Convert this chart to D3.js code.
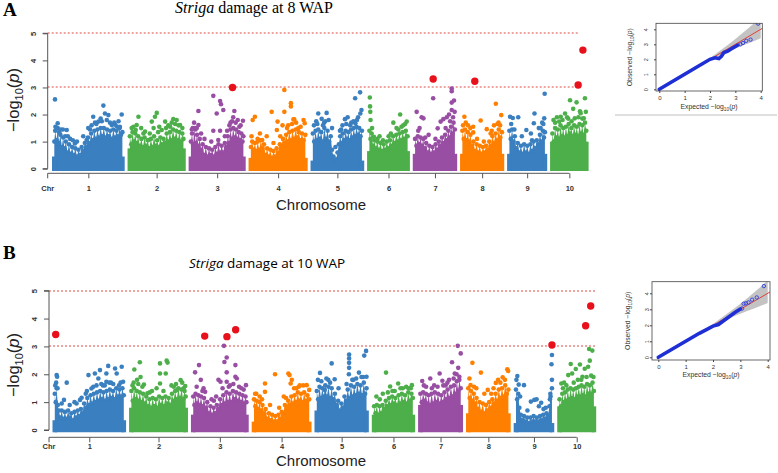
<!DOCTYPE html>
<html><head><meta charset="utf-8">
<script src="https://cdn.jsdelivr.net/npm/d3@7"></script>
<style>body{margin:0;background:#fff}svg{display:block}</style>
</head><body>
<script>
// ---------------- DATA ----------------
const chromosomes = ["1","2","3","4","5","6","7","8","9","10"];
const chrLengthsMb = [301,237,232,241,217,169,176,175,157,150];
const chrColors = ["#3a7fbf","#4daf4a","#984ea3","#ff7f00","#3a7fbf","#4daf4a","#984ea3","#ff7f00","#3a7fbf","#4daf4a"];
const chrGapMb = 33;
const yTicks = [0,1,2,3,4,5];
const thresholds = [3,5];
const titleA = "damage at 8 WAP";
const titleB = "damage at 10 WAP";

// upper edge of the dense SNP band (Mb, -log10 p) per chromosome
const bodyA = [
 [[0,1.0],[4,1.4],[10,1.05],[15,1.5],[21,0.95],[27,1.25],[33,0.8],[39,1.15],[45,0.75],[51,1.0],[58,0.6],[65,0.9],[72,0.55],[79,0.8],[86,0.5],[93,0.75],[100,0.45],[107,0.7],[114,0.5],[121,0.8],[128,0.65],[135,0.95],[142,0.8],[149,1.15],[156,0.95],[163,1.3],[170,1.05],[177,1.4],[184,1.1],[191,1.45],[198,1.15],[205,1.5],[212,1.2],[219,1.5],[226,1.15],[233,1.45],[240,1.2],[247,1.4],[254,1.1],[261,1.45],[268,1.15],[275,1.4],[282,1.2],[289,1.5],[295,1.25],[301,1.35]],
 [[0,1.2],[6,0.9],[12,1.35],[18,1.0],[24,1.3],[30,0.95],[37,1.2],[44,0.85],[51,1.1],[58,0.8],[65,1.15],[72,0.85],[79,1.05],[86,0.75],[93,1.1],[100,0.8],[107,1.2],[114,0.85],[121,1.05],[128,0.8],[135,1.15],[142,0.9],[149,1.1],[156,0.95],[163,1.3],[170,1.0],[177,1.35],[184,1.05],[191,1.45],[198,1.1],[205,1.4],[212,1.05],[219,1.35],[226,1.0],[232,1.3],[237,1.1]],
 [[0,1.0],[5,1.3],[10,0.9],[15,1.5],[21,0.95],[27,1.25],[33,0.85],[39,1.1],[45,0.7],[52,0.9],[59,0.5],[66,0.8],[73,0.45],[80,0.75],[87,0.5],[94,0.7],[101,0.45],[108,0.8],[115,0.55],[122,0.9],[129,0.6],[136,0.85],[143,0.6],[150,0.95],[157,0.8],[163,1.2],[169,0.95],[175,1.45],[181,1.1],[187,1.5],[193,1.15],[199,1.45],[205,1.1],[211,1.35],[217,1.05],[223,1.3],[228,1.0],[232,1.2]],
 [[0,0.8],[6,1.0],[12,0.7],[18,0.95],[24,0.65],[30,1.0],[37,0.7],[44,1.05],[51,0.75],[58,0.9],[65,0.5],[72,0.75],[79,0.45],[86,0.7],[93,0.4],[100,0.65],[107,0.45],[114,0.75],[121,0.6],[128,0.9],[135,0.8],[142,1.1],[149,0.95],[156,1.25],[163,1.0],[170,1.35],[177,1.05],[184,1.4],[191,1.1],[198,1.45],[205,1.15],[212,1.35],[219,1.05],[226,1.3],[233,1.05],[241,1.25]],
 [[0,1.3],[6,1.0],[12,1.4],[18,1.05],[24,1.45],[30,1.1],[37,1.35],[44,1.0],[51,1.5],[58,1.1],[65,1.4],[72,1.0],[79,1.2],[85,0.7],[91,0.45],[97,0.3],[103,0.35],[109,0.6],[115,0.9],[121,1.2],[127,0.95],[133,1.3],[139,1.05],[145,1.4],[151,1.1],[157,1.35],[163,1.05],[169,1.45],[175,1.15],[181,1.5],[187,1.2],[193,1.55],[199,1.25],[205,1.5],[211,1.2],[217,1.4]],
 [[0,1.4],[5,1.1],[10,1.3],[16,0.85],[22,1.05],[28,0.75],[35,1.0],[42,0.7],[49,0.95],[56,0.65],[63,0.9],[70,0.7],[77,1.0],[84,0.75],[91,1.05],[98,0.85],[105,1.2],[112,0.95],[119,1.25],[126,1.0],[133,1.3],[140,1.05],[147,1.35],[154,1.1],[161,1.4],[169,1.2]],
 [[0,1.1],[6,0.85],[12,1.2],[18,0.9],[24,1.15],[30,0.85],[36,1.1],[42,0.75],[49,0.95],[56,0.6],[63,0.85],[70,0.55],[77,0.8],[84,0.6],[91,0.9],[98,0.7],[105,1.0],[112,0.85],[119,1.15],[126,0.95],[133,1.25],[140,1.05],[147,1.4],[153,1.15],[159,1.55],[165,1.3],[170,1.7],[176,1.45]],
 [[0,1.4],[6,1.1],[12,1.45],[18,1.05],[24,1.35],[30,1.0],[36,1.25],[42,0.85],[49,1.0],[56,0.65],[63,0.9],[70,0.6],[77,0.85],[84,0.55],[91,0.8],[98,0.6],[105,0.85],[112,0.7],[119,1.0],[126,0.85],[133,1.2],[140,0.95],[147,1.3],[154,1.05],[161,1.45],[168,1.15],[175,1.35]],
 [[0,1.4],[6,1.1],[12,1.45],[18,1.0],[24,1.2],[30,0.75],[37,0.95],[44,0.6],[51,0.85],[58,0.55],[65,0.9],[72,0.6],[79,0.85],[86,0.55],[93,0.9],[100,0.65],[107,1.0],[114,0.75],[121,1.05],[128,0.9],[135,1.25],[142,1.0],[148,1.4],[153,1.15],[157,1.35]],
 [[0,1.3],[6,1.0],[12,1.5],[18,1.15],[24,1.45],[30,1.1],[36,1.6],[42,1.2],[48,1.5],[54,1.15],[60,1.55],[66,1.2],[72,1.65],[78,1.3],[84,1.5],[90,1.2],[96,1.6],[102,1.25],[108,1.55],[114,1.2],[120,1.65],[126,1.3],[132,1.6],[138,1.25],[144,1.7],[150,1.4]]
];
const bodyB = [
 [[0,1.3],[4,1.0],[8,1.5],[13,0.9],[18,0.7],[24,0.45],[30,0.7],[37,0.4],[44,0.65],[51,0.4],[58,0.7],[65,0.45],[72,0.6],[79,0.35],[86,0.65],[93,0.45],[100,0.7],[107,0.5],[114,0.75],[121,0.6],[128,0.95],[135,0.8],[142,1.15],[149,0.9],[156,1.25],[163,0.95],[170,1.3],[177,1.0],[184,1.35],[191,1.05],[198,1.4],[205,1.1],[212,1.35],[219,1.05],[226,1.4],[233,1.1],[240,1.45],[247,1.15],[254,1.4],[261,1.1],[268,1.5],[275,1.2],[282,1.45],[289,1.2],[295,1.5],[301,1.25]],
 [[0,1.4],[6,1.05],[12,1.5],[18,1.1],[24,1.4],[30,1.05],[37,1.35],[44,1.0],[51,1.3],[58,0.95],[65,1.2],[72,0.85],[79,1.1],[86,0.8],[93,1.15],[100,0.85],[107,1.1],[114,0.8],[121,1.2],[128,0.9],[135,1.15],[142,0.85],[149,1.2],[156,0.95],[163,1.15],[170,0.9],[177,1.3],[184,1.05],[191,1.4],[198,1.1],[205,1.5],[212,1.15],[219,1.45],[226,1.1],[232,1.4],[237,1.2]],
 [[0,1.2],[5,0.9],[10,1.3],[16,0.95],[22,1.25],[28,0.9],[34,1.2],[40,0.85],[47,1.15],[54,0.8],[61,1.0],[68,0.6],[75,0.85],[82,0.55],[89,0.8],[96,0.6],[103,0.9],[110,0.75],[117,1.1],[124,0.9],[131,1.25],[138,0.95],[145,1.35],[152,1.0],[159,1.3],[166,1.0],[173,1.4],[180,1.1],[187,1.35],[194,1.05],[201,1.3],[208,1.0],[215,1.25],[222,0.95],[228,1.2],[232,1.0]],
 [[0,1.1],[6,0.85],[12,1.05],[18,0.75],[24,1.0],[30,0.7],[37,0.9],[44,0.6],[51,0.75],[58,0.4],[65,0.6],[72,0.35],[79,0.55],[86,0.3],[93,0.5],[100,0.3],[107,0.55],[114,0.4],[121,0.65],[128,0.6],[135,0.9],[142,0.8],[149,1.05],[156,0.9],[163,1.2],[170,0.95],[177,1.25],[184,1.0],[191,1.35],[198,1.05],[205,1.3],[212,1.0],[219,1.35],[226,1.05],[233,1.25],[241,1.1]],
 [[0,1.4],[6,1.1],[12,1.55],[18,1.15],[24,1.5],[30,1.2],[37,1.6],[44,1.2],[51,1.55],[58,1.15],[65,1.5],[72,1.1],[79,1.3],[86,0.9],[93,1.05],[100,0.7],[107,0.95],[114,0.8],[121,1.2],[128,1.05],[135,1.45],[142,1.15],[149,1.6],[156,1.2],[163,1.55],[170,1.25],[177,1.65],[184,1.3],[191,1.6],[198,1.25],[205,1.7],[211,1.3],[217,1.5]],
 [[0,0.85],[6,0.6],[12,0.9],[18,0.55],[24,0.85],[30,0.6],[37,0.9],[44,0.75],[51,1.05],[58,0.85],[65,1.15],[72,0.9],[79,1.2],[86,0.95],[93,1.15],[100,0.9],[107,1.25],[114,0.95],[121,1.3],[128,1.0],[135,1.25],[142,0.95],[149,1.35],[156,1.05],[163,1.3],[169,1.15]],
 [[0,1.3],[6,1.0],[12,1.35],[18,1.05],[24,1.3],[30,0.95],[36,1.25],[42,0.9],[49,1.3],[56,0.95],[63,1.35],[70,1.0],[77,1.3],[84,0.95],[91,1.25],[98,1.0],[105,1.35],[112,1.1],[119,1.45],[126,1.15],[133,1.55],[140,1.2],[147,1.6],[153,1.3],[159,1.75],[165,1.4],[170,1.8],[176,1.5]],
 [[0,1.5],[6,1.15],[12,1.4],[18,1.05],[24,1.3],[30,0.95],[36,1.15],[42,0.75],[49,1.0],[56,0.65],[63,0.95],[70,0.6],[77,0.9],[84,0.7],[91,1.0],[98,0.8],[105,1.1],[112,0.95],[119,1.3],[126,1.05],[133,1.45],[140,1.15],[147,1.5],[154,1.2],[161,1.6],[168,1.3],[175,1.45]],
 [[0,1.45],[5,1.1],[10,1.3],[15,0.8],[21,0.55],[28,0.35],[35,0.5],[42,0.3],[49,0.45],[56,0.25],[63,0.45],[70,0.3],[77,0.5],[84,0.3],[91,0.45],[98,0.3],[105,0.5],[112,0.35],[119,0.55],[126,0.4],[133,0.6],[140,0.5],[146,0.85],[151,1.2],[157,1.5]],
 [[0,1.1],[6,0.85],[12,1.3],[18,1.0],[24,1.35],[30,1.05],[36,1.45],[42,1.1],[48,1.5],[54,1.15],[60,1.45],[66,1.1],[72,1.5],[78,1.2],[84,1.55],[90,1.2],[96,1.6],[102,1.25],[108,1.55],[114,1.2],[120,1.65],[126,1.3],[132,1.6],[138,1.3],[144,1.7],[150,1.4]]
];

// scattered SNPs above the dense band: [chromosome, Mb, -log10 p]
const fringeA = [
 [1,3,2.56],[1,15,1.68],[1,10,1.5],[1,22,1.35],[1,38,1.45],[1,55,1.43],[1,48,1.2],[1,70,1.1],[1,91,0.93],[1,100,1.0],[1,128,1.2],[1,143,1.06],[1,158,1.45],[1,172,1.92],[1,180,1.7],[1,195,1.74],[1,205,1.85],[1,217,2.33],[1,224,2.04],[1,232,1.8],[1,239,1.98],[1,254,1.61],[1,265,1.7],[1,278,1.55],[1,290,1.55],[1,298,2.0],
 [1,5,1.55],[1,28,1.45],[1,60,1.2],[1,82,1.05],[1,150,1.5],[1,165,1.6],[1,186,1.65],[1,210,1.75],[1,246,1.7],[1,270,1.62],[1,284,1.75],
 [2,26,1.43],[2,30,1.61],[2,38,1.92],[2,50,1.5],[2,67,1.37],[2,82,1.06],[2,97,1.74],[2,105,1.5],[2,111,1.92],[2,119,2.06],[2,130,1.55],[2,141,1.43],[2,156,1.74],[2,170,1.6],[2,185,1.7],[2,192,1.83],[2,207,1.8],[2,222,1.61],[2,232,1.5],
 [2,8,1.5],[2,16,1.55],[2,60,1.3],[2,88,1.3],[2,125,1.35],[2,160,1.5],[2,178,1.55],[2,200,1.65],[2,215,1.6],
 [3,8,1.5],[3,20,1.45],[3,33,2.13],[3,33,1.61],[3,45,1.3],[3,60,1.1],[3,99,2.69],[3,99,1.4],[3,114,2.04],[3,121,1.06],[3,129,2.5],[3,129,1.4],[3,133,2.38],[3,143,2.17],[3,160,1.4],[3,175,1.7],[3,187,1.9],[3,192,2.13],[3,207,1.8],[3,220,1.6],[3,230,1.77],
 [3,4,1.45],[3,14,1.7],[3,26,1.5],[3,90,1.0],[3,150,1.2],[3,170,1.6],[3,182,1.75],[3,198,1.7],[3,214,1.55],
 [4,8,1.8],[4,18,1.92],[4,30,1.1],[4,50,1.06],[4,70,1.2],[4,92,2.1],[4,115,1.43],[4,118,1.74],[4,140,1.6],[4,148,2.91],[4,148,2.1],[4,160,1.5],[4,177,2.42],[4,177,2.3],[4,188,1.82],[4,192,1.82],[4,210,1.5],[4,233,1.8],[4,238,1.68],
 [4,3,1.2],[4,40,1.3],[4,100,0.95],[4,130,1.2],[4,165,1.6],[4,182,1.65],[4,200,1.7],[4,220,1.55],
 [5,5,1.6],[5,15,1.75],[5,24,2.04],[5,39,1.84],[5,50,1.7],[5,61,2.06],[5,70,1.8],[5,85,1.5],[5,100,0.8],[5,120,1.4],[5,131,1.6],[5,142,1.83],[5,154,1.9],[5,170,1.7],[5,187,2.6],[5,188,1.68],[5,200,1.9],[5,209,2.82],[5,210,2.04],[5,215,2.17],
 [5,20,1.65],[5,45,1.6],[5,55,1.75],[5,125,1.45],[5,148,1.65],[5,165,1.6],[5,180,1.75],[5,195,1.8],
 [6,2,2.63],[6,3,2.3],[6,4,2.1],[6,5,1.8],[6,20,1.18],[6,36,1.1],[6,60,1.05],[6,85,1.2],[6,106,1.7],[6,120,1.5],[6,136,2.0],[6,150,1.6],[6,165,1.74],
 [6,12,1.5],[6,45,1.2],[6,95,1.3],[6,128,1.45],[6,142,1.55],[6,158,1.65],
 [7,7,2.1],[7,20,1.5],[7,29,1.9],[7,37,1.86],[7,60,1.25],[7,80,2.6],[7,100,1.49],[7,113,1.74],[7,125,1.83],[7,140,1.9],[7,150,2.0],[7,162,2.96],[7,162,2.86],[7,162,2.44],[7,162,2.17],[7,172,2.52],[7,175,2.1],
 [7,14,1.4],[7,45,1.15],[7,90,1.1],[7,135,1.5],[7,155,1.75],[7,168,1.9],
 [8,9,1.92],[8,25,1.6],[8,48,1.55],[8,48,1.34],[8,65,1.1],[8,81,1.78],[8,95,1.0],[8,108,1.46],[8,125,1.3],[8,140,1.6],[8,148,2.4],[8,160,1.7],[8,172,1.98],
 [8,3,1.6],[8,15,1.7],[8,35,1.5],[8,130,1.4],[8,155,1.65],[8,167,1.6],
 [9,3,1.92],[9,15,1.87],[9,39,1.9],[9,55,1.2],[9,75,1.43],[9,95,1.3],[9,108,1.68],[9,111,2.04],[9,130,1.5],[9,145,1.7],[9,154,1.86],[9,156,2.77],
 [9,8,1.65],[9,22,1.45],[9,100,1.05],[9,138,1.5],[9,150,1.65],
 [10,5,1.8],[10,20,1.9],[10,30,1.74],[10,37,1.92],[10,56,2.04],[10,65,1.9],[10,78,2.53],[10,92,2.21],[10,99,1.86],[10,107,2.45],[10,122,2.12],[10,125,2.05],[10,139,1.86],[10,144,2.6],[10,148,2.1],
 [10,12,1.7],[10,45,1.8],[10,70,1.85],[10,85,1.75],[10,115,1.9],[10,132,1.85]
];
const fringeB = [
 [1,8,1.97],[1,10,1.91],[1,6,1.7],[1,12,1.5],[1,40,1.08],[1,52,1.7],[1,65,0.9],[1,86,1.0],[1,110,1.08],[1,117,1.16],[1,135,1.3],[1,147,1.97],[1,160,1.49],[1,175,2.03],[1,190,1.85],[1,197,2.15],[1,210,1.6],[1,225,2.03],[1,225,1.73],[1,233,2.3],[1,245,1.7],[1,263,2.21],[1,270,2.03],[1,280,1.6],[1,292,2.27],[1,298,1.73],
 [1,2,1.6],[1,30,0.95],[1,95,0.95],[1,140,1.4],[1,168,1.55],[1,182,1.6],[1,203,1.65],[1,218,1.6],[1,238,1.7],[1,255,1.65],[1,287,1.7],
 [2,5,1.6],[2,13,2.17],[2,25,1.8],[2,37,2.43],[2,40,1.9],[2,55,1.63],[2,70,1.32],[2,90,1.4],[2,110,1.5],[2,125,2.39],[2,125,2.03],[2,125,1.67],[2,150,2.03],[2,154,2.49],[2,158,2.42],[2,175,1.6],[2,200,1.44],[2,215,1.79],[2,228,1.5],[2,235,1.58],
 [2,10,1.7],[2,30,1.65],[2,48,1.55],[2,80,1.35],[2,140,1.4],[2,185,1.55],[2,195,1.65],[2,222,1.7],
 [3,8,2.07],[3,25,2.33],[3,33,1.8],[3,45,1.5],[3,52,1.37],[3,80,1.1],[3,100,1.2],[3,110,1.8],[3,119,1.73],[3,134,3.02],[3,136,2.44],[3,146,2.6],[3,146,2.07],[3,146,1.73],[3,160,1.6],[3,184,2.33],[3,184,1.91],[3,190,1.85],[3,210,1.5],[3,230,1.61],
 [3,15,1.55],[3,40,1.4],[3,90,1.05],[3,128,1.5],[3,155,1.55],[3,175,1.65],[3,200,1.55],[3,220,1.45],
 [4,10,1.3],[4,25,1.2],[4,48,1.67],[4,48,1.37],[4,70,0.9],[4,92,2.0],[4,110,0.8],[4,130,1.2],[4,150,2.03],[4,155,1.97],[4,160,1.67],[4,165,1.8],[4,185,1.5],[4,200,1.6],[4,230,1.61],[4,241,1.44],
 [4,5,1.3],[4,35,1.1],[4,140,1.15],[4,175,1.5],[4,195,1.55],[4,215,1.6],
 [5,5,1.8],[5,14,2.05],[5,35,1.44],[5,50,1.8],[5,65,2.39],[5,78,1.82],[5,95,1.5],[5,141,2.71],[5,141,2.57],[5,141,2.41],[5,141,2.23],[5,140,2.0],[5,160,1.8],[5,184,2.06],[5,195,1.9],[5,207,2.67],[5,215,2.84],[5,217,1.91],
 [5,20,1.75],[5,42,1.85],[5,58,1.7],[5,130,1.65],[5,155,1.8],[5,172,1.85],[5,202,1.9],
 [6,10,1.2],[6,25,1.1],[6,38,1.3],[6,52,2.06],[6,70,1.56],[6,90,1.4],[6,105,1.67],[6,125,1.5],[6,150,1.5],[6,165,1.61],
 [6,60,1.35],[6,80,1.4],[6,115,1.5],[6,140,1.55],[6,160,1.5],
 [7,8,1.76],[7,25,1.55],[7,43,1.85],[7,60,1.6],[7,84,2.03],[7,96,1.77],[7,110,1.6],[7,125,1.8],[7,138,2.43],[7,150,2.03],[7,163,3.02],[7,165,2.23],[7,170,1.91],[7,176,2.75],
 [7,15,1.6],[7,50,1.5],[7,75,1.55],[7,100,1.6],[7,118,1.7],[7,145,1.85],[7,158,2.0],
 [8,5,1.85],[8,10,1.61],[8,18,2.41],[8,35,1.5],[8,55,2.06],[8,70,1.3],[8,85,1.44],[8,110,1.5],[8,120,1.69],[8,130,1.8],[8,150,1.89],[8,170,2.18],[8,174,2.12],
 [8,25,1.55],[8,100,1.3],[8,140,1.7],[8,160,1.8],
 [9,2,1.8],[9,6,1.94],[9,12,1.63],[9,35,1.61],[9,65,1.02],[9,80,1.08],[9,90,1.1],[9,100,0.85],[9,110,0.98],[9,120,0.75],[9,150,1.3],[9,155,2.36],[9,157,2.69],[9,157,1.8],
 [9,18,1.2],[9,50,0.7],[9,130,0.8],[9,148,1.1],
 [10,8,1.67],[10,20,1.7],[10,38,1.97],[10,49,2.37],[10,55,2.03],[10,71,2.19],[10,80,1.8],[10,89,2.35],[10,100,1.91],[10,110,2.2],[10,125,2.27],[10,129,2.91],[10,132,2.49],[10,143,2.85],[10,148,1.9],
 [10,15,1.5],[10,30,1.6],[10,62,1.7],[10,95,1.8],[10,118,1.9],[10,138,1.95]
];
// significant SNPs (red)
const hitsA = [[3,184,3.0],[7,80,3.31],[8,55,3.23],[10,114,3.09],[10,135,4.38]];
const hitsB = [[1,4,3.43],[3,50,3.37],[3,147,3.35],[3,185,3.6],[9,157,3.05],[10,114,3.74],[10,136,4.45]];

// QQ plots: [expected, observed]
const qqLineA = [[0,0],[0.5,0.5],[1,1],[1.5,1.5],[2,2.0],[2.2,2.1],[2.35,2.05],[2.45,2.2],[2.55,2.45],[2.7,2.55],[2.85,2.7],[3.0,2.85],[3.1,2.95]];
const qqTopA = [[3.2,3.0],[3.3,3.09],[3.43,3.23],[3.6,3.31],[3.9,4.38]];
const qqBandExpA = [0,1,2,2.5,3,3.5,4];
const qqBandLoA  = [0,0.98,1.93,2.35,2.72,3.05,3.4];
const qqBandHiA  = [0,1.02,2.08,2.7,3.35,4.05,4.8];
const qqLineB = [[0,0],[0.5,0.5],[1,1],[1.5,1.5],[2,1.95],[2.2,2.05],[2.4,2.3],[2.6,2.55],[2.8,2.8],[3.0,3.02]];
const qqTopB = [[3.06,3.05],[3.12,3.35],[3.2,3.37],[3.3,3.43],[3.43,3.6],[3.6,3.74],[3.86,4.45]];
const qqBandExpB = [0,1,2,2.5,3,3.5,4];
const qqBandLoB  = [0,0.98,1.93,2.35,2.72,3.05,3.4];
const qqBandHiB  = [0,1.02,2.08,2.7,3.35,4.05,4.8];
const qqTicks = [0,1,2,3,4];

// ---------------- DRAWING ----------------
const W = 778, H = 473;
const DOT = 2.3;
const svg = d3.select("body").append("svg").attr("width", W).attr("height", H)
  .style("font-family", "Liberation Sans, Arial, sans-serif");
svg.append("rect").attr("width", W).attr("height", H).attr("fill", "#fff");

const offsets = [];
{ let c = 0; chrLengthsMb.forEach((L) => { offsets.push(c); c += L + chrGapMb; }); }
const totalMb = offsets[9] + chrLengthsMb[9];
const cum = (chr, mb) => offsets[chr - 1] + mb;

function manhattan(L, body, fringe, hits) {
  const x = d3.scaleLinear().domain([0, totalMb]).range([L.x0, L.x1]);
  const y = d3.scaleLinear().domain([0, 5]).range([L.y0, L.y5]);
  const g = svg.append("g");
  g.selectAll(".thr").data(thresholds).join("line")
    .attr("x1", L.axX).attr("x2", L.dashEnd)
    .attr("y1", d => Math.round(y(d))).attr("y2", d => Math.round(y(d)))
    .attr("stroke", "#dd4b45").attr("stroke-width", 1).attr("stroke-dasharray", "2,2");
  const area = d3.area().x(d => d.px).y0(y(0) + DOT).y1(d => y(d.v));
  body.forEach((pts, i) => {
    const data = pts.map(p => ({px: x(cum(i + 1, p[0])), v: p[1]}));
    const gb = g.append("g").attr("fill", chrColors[i]);
    const vmin = d3.min(pts, p => p[1]);
    gb.append("path").attr("d", area(data));
    [data[0].px, data[data.length - 1].px].forEach(px =>
      gb.append("rect").attr("x", px - DOT).attr("width", DOT * 2)
        .attr("y", y(vmin)).attr("height", y(0) + DOT - y(vmin)));
    gb.selectAll("circle").data(data).join("circle")
      .attr("cx", d => d.px).attr("cy", d => y(d.v)).attr("r", DOT);
  });
  g.selectAll(".f").data(fringe).join("circle")
    .attr("cx", d => x(cum(d[0], d[1]))).attr("cy", d => y(d[2]))
    .attr("r", DOT).attr("fill", d => chrColors[d[0] - 1]);
  g.selectAll(".h").data(hits).join("circle")
    .attr("cx", d => x(cum(d[0], d[1]))).attr("cy", d => y(d[2]))
    .attr("r", 3.7).attr("fill", "#e8101a");
  // y axis
  const ya = d3.axisLeft(y).tickValues(yTicks).tickSize(5).tickFormat(d3.format("d"));
  const yg = g.append("g").attr("transform", `translate(${L.axX},0)`).call(ya);
  yg.select(".domain").attr("d", `M-5,${y(0)}H0V${y(5)}H-5`).attr("stroke", "#555");
  yg.selectAll(".tick line").attr("stroke", "#555");
  yg.selectAll(".tick text").attr("x", 0).attr("dy", 0)
    .attr("transform", `translate(-12,0) rotate(-90)`)
    .attr("text-anchor", "middle").attr("font-size", 7.5).attr("fill", "#333")
    .attr("font-weight", "bold");
  // x axis
  const centers = chromosomes.map((c, i) => cum(i + 1, chrLengthsMb[i] / 2));
  const xa = d3.axisBottom(x).tickValues(centers).tickSize(5).tickFormat((d, i) => chromosomes[i]);
  const xg = g.append("g").attr("transform", `translate(0,${L.axY})`).call(xa);
  xg.select(".domain").remove();
  xg.append("line").attr("x1", L.axX).attr("x2", x(centers[9])).attr("stroke", "#555");
  xg.append("line").attr("x1", L.axX).attr("x2", L.axX).attr("y2", 5).attr("stroke", "#555");
  xg.append("text").attr("x", L.axX).attr("y", L.tickLabY).attr("dy", "0.71em").attr("text-anchor", "middle")
    .attr("fill", "#333").attr("font-size", 7.5).attr("font-weight", "bold").text("Chr");
  xg.selectAll(".tick line").attr("stroke", "#555");
  xg.selectAll(".tick text").attr("y", L.tickLabY).attr("font-size", 7.5).attr("font-weight", "bold").attr("fill", "#333");
  // axis labels
  g.append("text").attr("x", 321).attr("y", L.chromY).attr("text-anchor", "middle")
    .attr("font-size", 15).attr("fill", "#222").text("Chromosome");
  const yl = g.append("text").attr("transform", `translate(${L.ylabX},${L.ylabY}) rotate(-90)`)
    .attr("text-anchor", "middle").attr("font-size", 16.5).attr("fill", "#222");
  yl.append("tspan").text("\u2212log");
  yl.append("tspan").attr("font-size", 11).attr("dy", 4).text("10");
  yl.append("tspan").attr("dy", -4).text("(");
  yl.append("tspan").attr("font-style", "italic").text("p");
  yl.append("tspan").text(")");
}

manhattan({x0: 54.3, x1: 586.3, y0: 168.7, y5: 33.3, axX: 47.7, axY: 173.3, dashEnd: 578,
           tickLabY: 12, chromY: 210, ylabX: 19, ylabY: 100}, bodyA, fringeA, hitsA);
manhattan({x0: 54.8, x1: 593.9, y0: 430, y5: 290.7, axX: 49, axY: 437.3, dashEnd: 595,
           tickLabY: 6, chromY: 466, ylabX: 19, ylabY: 365}, bodyB, fringeB, hitsB);

// titles
svg.append("text").attr("x", 3).attr("y", 16).attr("font-family", "Liberation Serif, Times New Roman, serif")
  .attr("font-weight", "bold").attr("font-size", 19).text("A");
svg.append("text").attr("x", 3).attr("y", 259).attr("font-family", "Liberation Serif, Times New Roman, serif")
  .attr("font-weight", "bold").attr("font-size", 19).text("B");
const tA = svg.append("text").attr("x", 254).attr("y", 13).attr("text-anchor", "middle")
  .attr("font-family", "Liberation Serif, Times New Roman, serif").attr("font-size", 16);
tA.append("tspan").attr("font-style", "italic").text("Striga");
tA.append("tspan").text(" " + titleA);
const tB = svg.append("text").attr("x", 267).attr("y", 268).attr("text-anchor", "middle")
  .attr("font-family", "Open Sans, Liberation Sans, sans-serif").attr("font-size", 13.5);
tB.append("tspan").attr("font-style", "italic").text("Striga");
tB.append("tspan").text(" " + titleB);

// QQ plots
function qq(L, line, top, bx, lo, hi) {
  const x = d3.scaleLinear().domain([0, 4]).range([L.x0, L.x4]);
  const y = d3.scaleLinear().domain([0, 4]).range([L.y0, L.y4]);
  const g = svg.append("g");
  const clipId = "clip" + Math.round(L.bx0);
  g.append("clipPath").attr("id", clipId).append("rect")
    .attr("x", L.bx0).attr("y", L.by0).attr("width", L.bx1 - L.bx0).attr("height", L.by1 - L.by0);
  const inner = g.append("g").attr("clip-path", `url(#${clipId})`);
  const band = bx.map((e, i) => ({e, lo: lo[i], hi: hi[i]}));
  inner.append("path").attr("d", d3.area().x(d => x(d.e)).y0(d => y(d.lo)).y1(d => y(d.hi)).curve(d3.curveMonotoneX)(band))
    .attr("fill", "#bdbdbd").attr("opacity", 0.9);
  inner.append("line").attr("x1", x(0)).attr("y1", y(0)).attr("x2", x(4.2)).attr("y2", y(4.2))
    .attr("stroke", "#e0403a").attr("stroke-width", 1);
  inner.append("path").attr("d", d3.line().x(d => x(d[0])).y(d => y(d[1]))(line))
    .attr("fill", "none").attr("stroke", "#1f2fd6").attr("stroke-width", 3.6).attr("stroke-linecap", "round");
  inner.selectAll(".t").data(top).join("circle")
    .attr("cx", d => x(d[0])).attr("cy", d => y(d[1])).attr("r", 1.7)
    .attr("fill", "none").attr("stroke", "#2b3be0").attr("stroke-width", 0.9);
  g.append("rect").attr("x", L.bx0).attr("y", L.by0).attr("width", L.bx1 - L.bx0).attr("height", L.by1 - L.by0)
    .attr("fill", "none").attr("stroke", "#444").attr("stroke-width", 0.8);
  const xa = d3.axisBottom(x).tickValues(qqTicks).tickSize(2).tickFormat(d3.format("d"));
  const xg = g.append("g").attr("transform", `translate(0,${L.by1})`).call(xa);
  xg.select(".domain").remove();
  xg.selectAll("text").attr("y", 5).attr("font-size", 6).attr("fill", "#333");
  xg.selectAll(".tick line").attr("stroke", "#444");
  const ya = d3.axisLeft(y).tickValues(qqTicks).tickSize(2).tickFormat(d3.format("d"));
  const yg = g.append("g").attr("transform", `translate(${L.bx0},0)`).call(ya);
  yg.select(".domain").remove();
  yg.selectAll(".tick line").attr("stroke", "#444");
  yg.selectAll("text").attr("x", 0).attr("dy", 0).attr("transform", `translate(${L.ytickX - L.bx0},0) rotate(-90)`)
    .attr("text-anchor", "middle").attr("font-size", 5.5).attr("fill", "#333");
  const xl = g.append("text").attr("x", L.xlabX).attr("y", L.xlabY).attr("text-anchor", "middle")
    .attr("font-size", 6.8).attr("fill", "#333");
  xl.append("tspan").text("Expected  \u2212log");
  xl.append("tspan").attr("font-size", 4.8).attr("dy", 1.5).text("10");
  xl.append("tspan").attr("dy", -1.5).text("(");
  xl.append("tspan").attr("font-style", "italic").text("p");
  xl.append("tspan").text(")");
  const yl = g.append("text").attr("transform", `translate(${L.ylabX},${(L.by0 + L.by1) / 2}) rotate(-90)`)
    .attr("text-anchor", "middle").attr("font-size", 6.8).attr("fill", "#333");
  yl.append("tspan").text("Observed  \u2212log");
  yl.append("tspan").attr("font-size", 4.8).attr("dy", 1.5).text("10");
  yl.append("tspan").attr("dy", -1.5).text("(");
  yl.append("tspan").attr("font-style", "italic").text("p");
  yl.append("tspan").text(")");
}
qq({x0: 659.3, x4: 760.7, y0: 89.3, y4: 29.3, bx0: 656, bx1: 762.3, by0: 23.3, by1: 91,
    ytickX: 647.5, ylabX: 632, xlabX: 709, xlabY: 109}, qqLineA, qqTopA, qqBandExpA, qqBandLoA, qqBandHiA);
qq({x0: 658.3, x4: 767.7, y0: 357.3, y4: 293.3, bx0: 652, bx1: 770, by0: 281.7, by1: 360,
    ytickX: 648.5, ylabX: 630, xlabX: 711, xlabY: 377}, qqLineB, qqTopB, qqBandExpB, qqBandLoB, qqBandHiB);
svg.append("line").attr("x1", 615).attr("x2", 777).attr("y1", 115).attr("y2", 115)
  .attr("stroke", "#d4d4d4").attr("stroke-width", 1.5);
</script>
</body></html>
